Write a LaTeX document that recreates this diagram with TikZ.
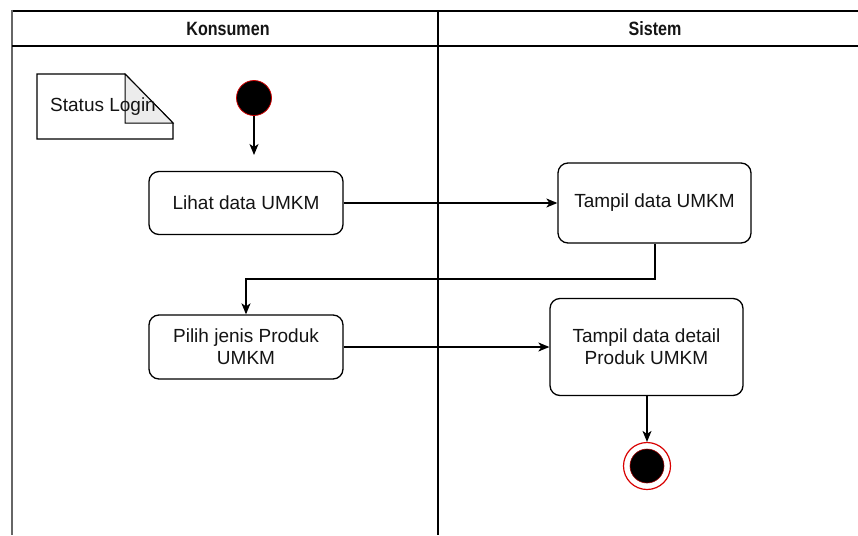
\documentclass[tikz,border=0pt]{standalone}
\usepackage{fontspec}
\setmainfont{Liberation Sans}
\usetikzlibrary{arrows.meta}
\definecolor{txt}{HTML}{141414}
\tikzset{
  lane/.style={draw=black, line width=1.2pt},
  act/.style={draw=black, line width=1.3pt, rounded corners=10pt, fill=white,
    align=center, text=txt, font=\fontsize{19}{22}\selectfont, inner sep=0pt},
  flow/.style={draw=black, line width=1.3pt,
    -{Stealth[length=11pt,width=9pt,inset=3pt]}},
  hdr/.style={font=\bfseries\fontsize{17.5}{20}\selectfont, text=txt},
}
\begin{document}
\begin{tikzpicture}[x=1pt,y=-1pt]
\useasboundingbox (0,0) rectangle (858,535);
% swimlanes
\draw[lane] (858,11) -- (12,11);
\draw[draw=gray!80!black, line width=2.2pt] (12,10) -- (12,535);
\draw[lane] (12,46) -- (858,46);
\draw[lane] (438,11) -- (438,535);
\node[hdr] (h1) at (228,29) {\scalebox{0.92}[1.1]{Konsumen}};
\node[hdr] (h2) at (655,29) {\scalebox{0.92}[1.1]{Sistem}};
% note
\draw[line width=1.2pt, fill=white] (37,74) -- (125,74) -- (173,123) -- (173,139) -- (37,139) -- cycle;
\draw[line width=1pt, fill=gray!15] (125,74) -- (125,123) -- (173,123) -- cycle;
\node[font=\fontsize{19}{22}\selectfont, text=txt, anchor=west, inner sep=0pt] (note) at (50,107) {Status Login};
% start
\node[circle, fill=black, draw=red!80!black, line width=0.8pt, minimum size=35pt, inner sep=0pt] (start) at (254,98) {};
\coordinate (sEnd) at (254,155);
\draw[flow] (start) -- (sEnd);
% activities
\node[act, minimum width=194pt, minimum height=63pt] (lihat) at (246,203) {Lihat data UMKM};
\node[act, minimum width=193pt, minimum height=80pt] (tampil) at (654.5,203) {Tampil data UMKM};
\node[act, minimum width=194pt, minimum height=64pt] (pilih) at (246,347) {Pilih jenis Produk\\UMKM};
\node[act, minimum width=193pt, minimum height=97pt] (detail) at (646.5,347) {Tampil data detail\\Produk UMKM};
% end
\node[circle, fill=white, draw=red!85!black, line width=1.2pt, minimum size=47pt, inner sep=0pt] (stop) at (647,466) {};
\node[circle, fill=black, draw=red!60!black, line width=0.6pt, minimum size=34pt, inner sep=0pt] (stopin) at (stop.center) {};
% flows
\draw[flow] (lihat.east) -- (lihat.east -| tampil.west);
\draw[flow] (tampil.south -| 655,0) -- (655,279) -- (246,279) -- (pilih.north);
\draw[flow] (pilih.east) -- (pilih.east -| detail.west);
\draw[flow] (detail.south -| stop.north) -- (stop.north);
\end{tikzpicture}
\end{document}
